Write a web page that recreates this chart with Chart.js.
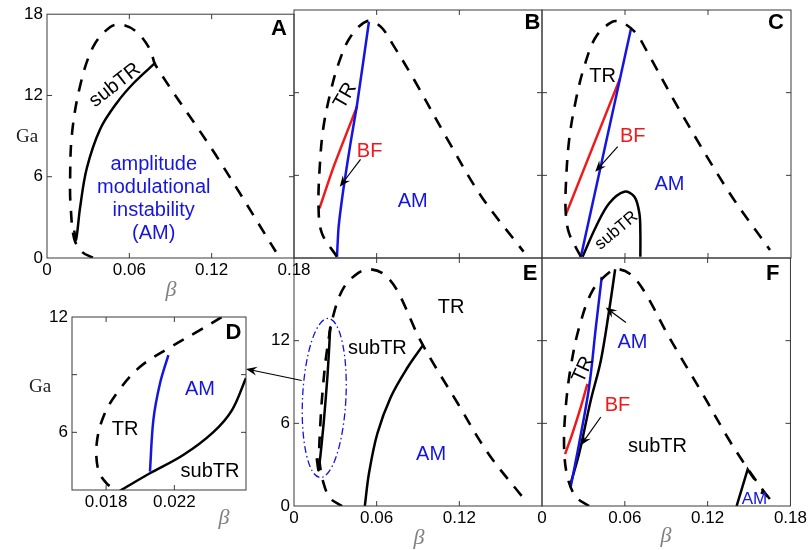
<!DOCTYPE html>
<html>
<head>
<meta charset="utf-8">
<title>Ga - beta regime diagrams</title>
<script src="https://cdn.jsdelivr.net/npm/chart.js@4.4.1/dist/chart.umd.min.js"></script>
<style>
  body { margin: 0; background: #fff; }
  #fig { position: relative; width: 809px; height: 550px; overflow: hidden; }
  #fig canvas { position: absolute; left: 0; top: 0; }
  .lbl { position: absolute; white-space: nowrap; font: 20px Arial, "Liberation Sans", sans-serif;
         color: #000; line-height: 1; text-align: center; }
  .ax { position: absolute; white-space: nowrap; font-family: "Times New Roman", "Liberation Serif", serif; }
</style>
</head>
<body>
<div id="fig"></div>
<script>
const W = 809, H = 550;
const BLUE = '#1515e0', RED = '#f01818';

// ---- panel A ----
const aDashBeta = [0.0334, 0.0254, 0.0198, 0.0173, 0.0168, 0.0181, 0.0241, 0.0337, 0.0461, 0.0547, 0.0656, 0.0754, 0.079, 0.1229, 0.1668];
const aDashGa   = [0.02, 0.46, 1.43, 3.72, 5.44, 9.07, 12.7, 15.6, 17.06, 17.22, 16.67, 15.34, 14.25, 7.62, 0.46];
const aSubBeta  = [0.0198, 0.0212, 0.0241, 0.029, 0.0388, 0.051, 0.0632, 0.079];
const aSubGa    = [2.03, 1.36, 3.72, 6.63, 9.53, 11.47, 12.92, 14.42];

// ---- panel B ----
const bDashBeta = [0.0312, 0.0203, 0.0178, 0.019, 0.0214, 0.0263, 0.0324, 0.041, 0.0532, 0.0629, 0.0727, 0.0873, 0.1117, 0.1361, 0.1666];
const bDashGa   = [0.09, 1.79, 3.72, 7.11, 9.53, 11.95, 14.13, 16.06, 17.2, 16.79, 15.34, 12.92, 8.56, 4.45, 0.46];
const bBlueBeta = [0.0312, 0.0324, 0.0361, 0.041, 0.0459, 0.0544];
const bBlueGa   = [0.09, 2.27, 5.17, 8.32, 11.23, 17.15];
const bRedBeta  = [0.0185, 0.0288, 0.0459];
const bRedGa    = [3.61, 6.63, 11.03];

// ---- panel C ----
const cDashBeta = [0.0281, 0.0196, 0.0172, 0.0172, 0.0196, 0.0245, 0.0305, 0.039, 0.051, 0.0583, 0.068, 0.0753, 0.0994, 0.1357, 0.1648];
const cDashGa   = [0.09, 1.79, 3.24, 5.17, 8.56, 11.47, 13.88, 16.06, 17.15, 17.08, 16.31, 15.1, 10.74, 4.7, 0.58];
const cBlueBeta = [0.0281, 0.0644];
const cBlueGa   = [0.09, 16.67];
const cRedBeta  = [0.0176, 0.0564];
const cRedGa    = [3.24, 13.04];
const cSubBeta  = [0.0293, 0.039, 0.0486, 0.0595, 0.0668, 0.0704, 0.0711, 0.0711];
const cSubGa    = [0.09, 2.27, 3.97, 4.81, 4.45, 3.24, 1.79, 0.09];

// ---- panel D (zoom) ----
const dDashBeta  = [0.02585, 0.02478, 0.0235, 0.02175, 0.01999, 0.01862, 0.01784, 0.01745, 0.01754, 0.01803, 0.0187];
const dDashGa    = [12.62, 12.0, 11.32, 10.42, 9.41, 8.03, 6.81, 5.43, 4.04, 3.35, 2.95];
const dBlueBeta  = [0.02057, 0.02077, 0.02116, 0.02165];
const dBlueGa    = [3.96, 6.64, 8.55, 10.02];
const dSubBeta   = [0.01881, 0.02057, 0.02252, 0.02427, 0.02538, 0.0262];
const dSubGa     = [2.96, 3.87, 4.82, 6.0, 7.16, 8.83];

// ---- panel E ----
const eDashBeta = [0.0349, 0.0263, 0.0215, 0.0185, 0.019, 0.021, 0.0239, 0.0288, 0.0361, 0.047, 0.0556, 0.0653, 0.0751, 0.0922, 0.119, 0.141, 0.1666];
const eDashGa   = [0, 0.56, 1.64, 3.33, 5.73, 8.62, 11.28, 13.93, 15.85, 16.94, 17.18, 16.82, 15.61, 11.93, 7.42, 3.81, 0.56];
const eLoopBeta = [0.01646, 0.0178, 0.0215, 0.0244, 0.0263, 0.0256];
const eLoopGa   = [3.47, 2.6, 5.98, 9.59, 12.96, 12.43];
const eSubBeta  = [0.0514, 0.0544, 0.0605, 0.0702, 0.0825, 0.0934];
const eSubGa    = [0, 2.36, 5.26, 7.9, 10.07, 11.64];

// ---- panel F ----
const fDashBeta  = [0.0341, 0.0245, 0.0184, 0.016, 0.0172, 0.0208, 0.0269, 0.0365, 0.0486, 0.0559, 0.0655, 0.0753, 0.0922, 0.1163, 0.1357, 0.149, 0.1635];
const fDashGa    = [0, 0.67, 2.12, 4.29, 7.18, 10.07, 12.96, 15.61, 16.94, 17.18, 16.7, 15.38, 12.24, 8.15, 4.77, 2.72, 0.67];
const fBlueBeta  = [0.0208, 0.0269, 0.0341, 0.039, 0.0433];
const fBlueGa    = [1.4, 4.53, 8.62, 12.96, 16.63];
const fBlackBeta = [0.0208, 0.0269, 0.0353, 0.0426, 0.0486, 0.053];
const fBlackGa   = [1.64, 3.81, 7.66, 10.55, 14.17, 17.18];
const fRedBeta   = [0.0167, 0.022, 0.0281, 0.0329];
const fRedGa     = [3.76, 5.26, 7.18, 8.87];
const fCornBeta  = [0.141, 0.149, 0.1539];
const fCornGa    = [0, 2.65, 1.93];
const fTipBeta   = [0.159, 0.160, 0.1651];
const fTipGa     = [0.87, 1.12, 0.51];

// tick values
const betaTicks = [0, 0.06, 0.12, 0.18];
const gaTicks   = [0, 6, 12, 18];
const dBetaTicks = [0.018, 0.022];
const dGaTicks   = [6, 9, 12];

const zip = (bs, gs) => bs.map((b, i) => ({ x: b, y: gs[i] }));
const fmt = v => String(+v.toFixed(3));
const line = (bs, gs, color, more) => Object.assign({
  data: zip(bs, gs), showLine: true, borderColor: color, borderWidth: 2.5,
  pointRadius: 0, tension: 0.35, fill: false
}, more);
const dashed = (bs, gs) => line(bs, gs, '#000', { borderDash: [12, 10], borderWidth: 2.6 });

function arrow(ctx, x1, y1, x2, y2) {
  const a = Math.atan2(y2 - y1, x2 - x1), c = Math.cos(a), s = Math.sin(a), L = 11, w = 4.5;
  ctx.beginPath();
  ctx.moveTo(x1, y1);
  ctx.lineTo(x2 - c * L * 0.6, y2 - s * L * 0.6);
  ctx.stroke();
  ctx.beginPath();
  ctx.moveTo(x2, y2);
  ctx.lineTo(x2 - c * L - s * w, y2 - s * L + c * w);
  ctx.lineTo(x2 - c * L * 0.65, y2 - s * L * 0.65);
  ctx.lineTo(x2 - c * L + s * w, y2 - s * L - c * w);
  ctx.closePath();
  ctx.fill();
}

const charts = {};
const tickFont = { family: 'Arial, "Liberation Sans", sans-serif', size: 17 };

function panel(rect, xr, yr, xt, yt, xLab, yLab, datasets, extra) {
  const cv = document.createElement('canvas');
  cv.width = W; cv.height = H;
  cv.style.width = W + 'px'; cv.style.height = H + 'px';
  document.getElementById('fig').appendChild(cv);
  const has = (list, v) => list.some(l => Math.abs(l - v) < 1e-9);
  return new Chart(cv, {
    type: 'scatter',
    data: { datasets },
    options: {
      responsive: false, animation: false, events: [],
      layout: { autoPadding: false,
        padding: { left: rect[0] - 40, top: rect[1], right: W - rect[2], bottom: H - rect[3] - 30 } },
      plugins: { legend: { display: false }, tooltip: { enabled: false } },
      scales: {
        x: {
          type: 'linear', position: 'bottom', min: xr[0], max: xr[1],
          afterBuildTicks: s => { s.ticks = xt.map(v => ({ value: v })); },
          afterFit: s => { s.height = 30; },
          grid: { display: false, drawTicks: false }, border: { display: false },
          ticks: { display: xLab.length > 0, autoSkip: false, maxRotation: 0, padding: 2,
                   color: '#000', font: tickFont, callback: v => has(xLab, v) ? fmt(v) : '' }
        },
        y: {
          type: 'linear', position: 'left', min: yr[0], max: yr[1],
          afterBuildTicks: s => { s.ticks = yt.map(v => ({ value: v })); },
          afterFit: s => { s.width = 40; },
          grid: { display: false, drawTicks: false }, border: { display: false },
          ticks: { display: yLab.length > 0, autoSkip: false, padding: 4,
                   color: '#000', font: tickFont, callback: v => has(yLab, v) ? fmt(v) : '' }
        }
      }
    },
    plugins: [{
      id: 'frame',
      afterDraw(chart) {
        const { ctx, chartArea: a, scales: { x, y } } = chart;
        ctx.save();
        ctx.strokeStyle = '#3a3a3a';
        ctx.lineWidth = 1;
        ctx.strokeRect(a.left, a.top, a.right - a.left, a.bottom - a.top);
        ctx.beginPath();
        xt.forEach(v => {
          if (v <= x.min + 1e-9 || v >= x.max - 1e-9) return;
          const p = x.getPixelForValue(v);
          ctx.moveTo(p, a.bottom); ctx.lineTo(p, a.bottom - 5);
          ctx.moveTo(p, a.top); ctx.lineTo(p, a.top + 5);
        });
        yt.forEach(v => {
          if (v <= y.min + 1e-9 || v >= y.max - 1e-9) return;
          const p = y.getPixelForValue(v);
          ctx.moveTo(a.left, p); ctx.lineTo(a.left + 5, p);
          ctx.moveTo(a.right, p); ctx.lineTo(a.right - 5, p);
        });
        ctx.stroke();
        if (extra) {
          ctx.strokeStyle = '#000'; ctx.fillStyle = '#000'; ctx.lineWidth = 1.2;
          extra(ctx, v => x.getPixelForValue(v), v => y.getPixelForValue(v));
        }
        ctx.restore();
      }
    }]
  });
}

charts.A = panel([47, 10, 294, 258], [0, 0.18], [0, 18], betaTicks, gaTicks, betaTicks, gaTicks, [
  dashed(aDashBeta, aDashGa),
  line(aSubBeta, aSubGa, '#000')
]);

charts.B = panel([294, 10, 542, 258], [0, 0.18], [0, 18], betaTicks, gaTicks, [], [], [
  dashed(bDashBeta, bDashGa),
  line(bBlueBeta, bBlueGa, BLUE, { tension: 0.2 }),
  line(bRedBeta, bRedGa, RED, { tension: 0.2 })
], (ctx, X, Y) => arrow(ctx, X(0.0483), Y(7.16), X(0.0332), Y(5.17)));

charts.C = panel([542, 10, 791, 258], [0, 0.18], [0, 18], betaTicks, gaTicks, [], [], [
  dashed(cDashBeta, cDashGa),
  line(cBlueBeta, cBlueGa, BLUE, { tension: 0 }),
  line(cRedBeta, cRedGa, RED, { tension: 0 }),
  line(cSubBeta, cSubGa, '#000')
], (ctx, X, Y) => arrow(ctx, X(0.0547), Y(8.08), X(0.0385), Y(6.26)));

charts.D = panel([72, 317, 246, 490], [0.016, 0.0262], [3, 12], dBetaTicks, dGaTicks, dBetaTicks, [6, 12], [
  dashed(dDashBeta, dDashGa),
  line(dBlueBeta, dBlueGa, BLUE),
  line(dSubBeta, dSubGa, '#000')
]);

charts.E = panel([294, 258, 542, 506], [0, 0.18], [0, 18], betaTicks, gaTicks, [0, 0.06, 0.12], [0, 6, 12], [
  dashed(eDashBeta, eDashGa),
  line(eLoopBeta, eLoopGa, '#000', { tension: 0.2 }),
  line(eSubBeta, eSubGa, '#000')
], (ctx, X, Y) => {
  // dash-dot ellipse around the zoomed region
  ctx.save();
  ctx.strokeStyle = BLUE; ctx.lineWidth = 1.3; ctx.setLineDash([7, 3, 1.5, 3]);
  ctx.beginPath();
  ctx.ellipse(X(0.02195), Y(7.84), X(0.03768) - X(0.02195), Y(7.84) - Y(13.62), 0.05, 0, Math.PI * 2);
  ctx.stroke();
  ctx.restore();
  // arrow pointing to panel D
  const d = charts.D.scales;
  arrow(ctx, X(0.0056), Y(9.11), d.x.getPixelForValue(0.0262), d.y.getPixelForValue(9.3));
});

charts.F = panel([542, 258, 791, 506], [0, 0.18], [0, 18], betaTicks, gaTicks, betaTicks, [], [
  dashed(fDashBeta, fDashGa),
  line(fBlueBeta, fBlueGa, BLUE),
  line(fBlackBeta, fBlackGa, '#000'),
  line(fRedBeta, fRedGa, RED),
  line(fCornBeta, fCornGa, '#000', { tension: 0 }),
  line(fTipBeta, fTipGa, '#000', { tension: 0 })
], (ctx, X, Y) => {
  arrow(ctx, X(0.0608), Y(13.32), X(0.0462), Y(14.41));
  arrow(ctx, X(0.0426), Y(6.46), X(0.0281), Y(4.41));
});

// region labels, placed in data coordinates of each panel
const labels = [
  ['A', 0.169, 17.0, 'A', { bold: true }],
  ['A', 0.0488, 12.85, 'subTR', { rot: -38 }],
  ['A', 0.0778, 4.45, 'amplitude<br>modulational<br>instability<br>(AM)', { color: BLUE, lh: 23 }],
  ['B', 0.173, 17.15, 'B', { bold: true }],
  ['B', 0.0361, 11.83, 'TR', { rot: -60 }],
  ['B', 0.0549, 7.84, 'BF', { color: RED }],
  ['B', 0.0861, 4.21, 'AM', { color: BLUE }],
  ['C', 0.1691, 17.15, 'C', { bold: true }],
  ['C', 0.0438, 13.28, 'TR', {}],
  ['C', 0.0656, 8.93, 'BF', { color: RED }],
  ['C', 0.0922, 5.42, 'AM', { color: BLUE }],
  ['C', 0.0535, 2.03, 'subTR', { rot: -40, size: 17 }],
  ['D', 0.02546, 11.24, 'D', { bold: true }],
  ['D', 0.0235, 8.29, 'AM', { color: BLUE }],
  ['D', 0.01911, 6.21, 'TR', {}],
  ['D', 0.02409, 4.04, 'subTR', {}],
  ['E', 0.1714, 16.94, 'E', { bold: true }],
  ['E', 0.1141, 14.53, 'TR', {}],
  ['E', 0.0605, 11.57, 'subTR', {}],
  ['E', 0.0995, 3.85, 'AM', { color: BLUE }],
  ['F', 0.1672, 16.94, 'F', { bold: true }],
  ['F', 0.0655, 12.0, 'AM', { color: BLUE }],
  ['F', 0.0293, 9.95, 'TR', { rot: -65 }],
  ['F', 0.0547, 7.42, 'BF', { color: RED }],
  ['F', 0.0837, 4.41, 'subTR', {}],
  ['F', 0.1539, 0.56, 'AM', { color: BLUE, size: 17 }]
];

const fig = document.getElementById('fig');
labels.forEach(([id, b, g, txt, o]) => {
  const s = charts[id].scales;
  const el = document.createElement('div');
  el.className = 'lbl';
  el.innerHTML = txt;
  el.style.left = s.x.getPixelForValue(b) + 'px';
  el.style.top = s.y.getPixelForValue(g) + 'px';
  el.style.transform = 'translate(-50%, -50%) rotate(' + (o.rot || 0) + 'deg)';
  if (o.color) el.style.color = o.color;
  if (o.bold) { el.style.fontWeight = 'bold'; el.style.fontSize = '22px'; }
  if (o.size) el.style.fontSize = o.size + 'px';
  if (o.lh) el.style.lineHeight = o.lh + 'px';
  fig.appendChild(el);
});

// axis titles
[['Ga', 27, 136, false], ['Ga', 40, 386, false],
 ['β', 171, 289, true], ['β', 224, 517, true], ['β', 419, 537, true], ['β', 666, 535, true]
].forEach(([t, x, y, it]) => {
  const el = document.createElement('div');
  el.className = 'ax';
  el.textContent = t;
  el.style.left = x + 'px';
  el.style.top = y + 'px';
  el.style.transform = 'translate(-50%, -50%)';
  el.style.fontSize = it ? '22px' : '19px';
  el.style.fontStyle = it ? 'italic' : 'normal';
  el.style.color = it ? '#808080' : '#222';
  fig.appendChild(el);
});
</script>
</body>
</html>
